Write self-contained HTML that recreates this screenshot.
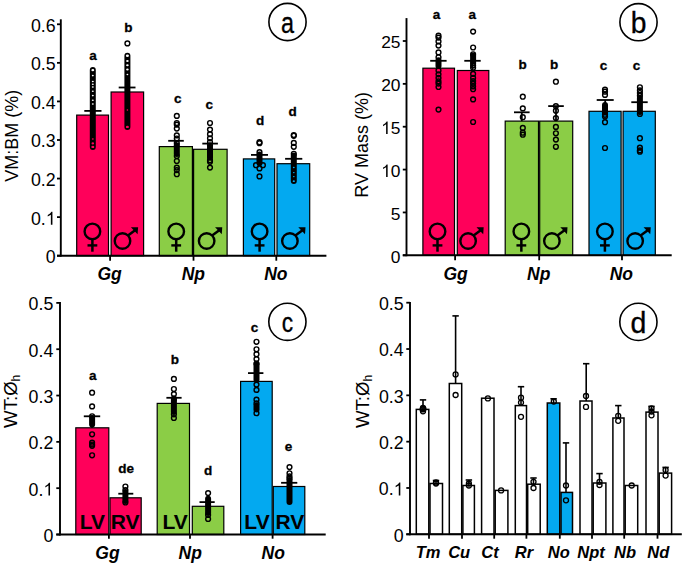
<!DOCTYPE html>
<html><head><meta charset="utf-8"><style>
html,body{margin:0;padding:0;background:#fff;}
body{width:685px;height:565px;overflow:hidden;}
svg{display:block;font-family:"Liberation Sans", sans-serif;}
</style></head><body>
<svg width="685" height="565" viewBox="0 0 685 565">
<rect width="685" height="565" fill="#fff"/>
<rect x="76.70" y="115.10" width="31.80" height="140.60" fill="#FF005A" stroke="#000" stroke-width="1.2"/>
<rect x="111.10" y="92.00" width="32.50" height="163.70" fill="#FF005A" stroke="#000" stroke-width="1.2"/>
<rect x="159.30" y="146.60" width="33.10" height="109.10" fill="#8BCD46" stroke="#000" stroke-width="1.2"/>
<rect x="193.60" y="149.30" width="33.50" height="106.40" fill="#8BCD46" stroke="#000" stroke-width="1.2"/>
<rect x="243.40" y="158.90" width="31.30" height="96.80" fill="#03A9F0" stroke="#000" stroke-width="1.2"/>
<rect x="277.00" y="163.70" width="32.70" height="92.00" fill="#03A9F0" stroke="#000" stroke-width="1.2"/>
<circle cx="92.40" cy="231.40" r="7.8" fill="none" stroke="#000" stroke-width="2.4"/>
<line x1="92.40" y1="239.20" x2="92.40" y2="251.70" stroke="#000" stroke-width="2.5"/>
<line x1="87.50" y1="245.40" x2="97.30" y2="245.40" stroke="#000" stroke-width="2.4"/>
<circle cx="122.50" cy="241.00" r="7.75" fill="none" stroke="#000" stroke-width="2.4"/>
<line x1="127.98" y1="235.52" x2="135.10" y2="230.30" stroke="#000" stroke-width="2.5"/>
<polygon points="138.10,227.30 130.90,227.20 137.60,234.30" fill="#000"/>
<circle cx="176.20" cy="231.40" r="7.8" fill="none" stroke="#000" stroke-width="2.4"/>
<line x1="176.20" y1="239.20" x2="176.20" y2="251.70" stroke="#000" stroke-width="2.5"/>
<line x1="171.30" y1="245.40" x2="181.10" y2="245.40" stroke="#000" stroke-width="2.4"/>
<circle cx="206.65" cy="241.00" r="7.75" fill="none" stroke="#000" stroke-width="2.4"/>
<line x1="212.13" y1="235.52" x2="219.25" y2="230.30" stroke="#000" stroke-width="2.5"/>
<polygon points="222.25,227.30 215.05,227.20 221.75,234.30" fill="#000"/>
<circle cx="259.60" cy="231.40" r="7.8" fill="none" stroke="#000" stroke-width="2.4"/>
<line x1="259.60" y1="239.20" x2="259.60" y2="251.70" stroke="#000" stroke-width="2.5"/>
<line x1="254.70" y1="245.40" x2="264.50" y2="245.40" stroke="#000" stroke-width="2.4"/>
<circle cx="289.90" cy="241.00" r="7.75" fill="none" stroke="#000" stroke-width="2.4"/>
<line x1="295.38" y1="235.52" x2="302.50" y2="230.30" stroke="#000" stroke-width="2.5"/>
<polygon points="305.50,227.30 298.30,227.20 305.00,234.30" fill="#000"/>
<rect x="89.80" y="66.90" width="6.00" height="83.00" rx="3.00" fill="#000"/>
<ellipse cx="92.80" cy="70.20" rx="1.40" ry="1.12" fill="#fff"/>
<ellipse cx="92.80" cy="75.60" rx="1.00" ry="0.80" fill="#fff"/>
<ellipse cx="92.80" cy="81.50" rx="1.00" ry="0.80" fill="#fff"/>
<ellipse cx="92.80" cy="84.30" rx="1.00" ry="0.80" fill="#fff"/>
<ellipse cx="92.80" cy="87.00" rx="1.00" ry="0.80" fill="#fff"/>
<ellipse cx="92.80" cy="91.30" rx="1.00" ry="0.80" fill="#fff"/>
<ellipse cx="92.80" cy="95.60" rx="1.00" ry="0.80" fill="#fff"/>
<ellipse cx="92.80" cy="100.20" rx="1.00" ry="0.80" fill="#fff"/>
<ellipse cx="92.80" cy="104.00" rx="1.00" ry="0.80" fill="#fff"/>
<ellipse cx="92.80" cy="139.00" rx="1.00" ry="0.80" fill="#FF005A"/>
<ellipse cx="92.80" cy="143.40" rx="1.30" ry="1.04" fill="#FF005A"/>
<ellipse cx="92.80" cy="146.90" rx="1.50" ry="1.20" fill="#FF005A"/>
<rect x="124.40" y="52.70" width="6.00" height="77.20" rx="3.00" fill="#000"/>
<circle cx="127.40" cy="43.40" r="2.4" fill="none" stroke="#000" stroke-width="1.4"/>
<ellipse cx="127.40" cy="55.70" rx="1.50" ry="1.20" fill="#fff"/>
<ellipse cx="127.40" cy="61.00" rx="1.30" ry="1.04" fill="#fff"/>
<ellipse cx="127.40" cy="65.20" rx="1.30" ry="1.04" fill="#fff"/>
<ellipse cx="127.40" cy="69.50" rx="1.30" ry="1.04" fill="#fff"/>
<ellipse cx="127.40" cy="74.50" rx="0.90" ry="0.72" fill="#fff"/>
<ellipse cx="127.40" cy="110.00" rx="0.80" ry="0.64" fill="#FF005A"/>
<ellipse cx="127.40" cy="126.90" rx="1.50" ry="1.20" fill="#FF005A"/>
<rect x="173.80" y="142.30" width="6.00" height="14.70" rx="3.00" fill="#000"/>
<circle cx="176.80" cy="115.90" r="2.4" fill="none" stroke="#000" stroke-width="1.4"/>
<circle cx="176.80" cy="123.00" r="2.4" fill="none" stroke="#000" stroke-width="1.4"/>
<circle cx="176.80" cy="124.60" r="2.4" fill="none" stroke="#000" stroke-width="1.4"/>
<circle cx="176.80" cy="128.60" r="2.4" fill="none" stroke="#000" stroke-width="1.4"/>
<circle cx="176.80" cy="135.40" r="2.4" fill="none" stroke="#000" stroke-width="1.4"/>
<circle cx="176.80" cy="138.50" r="2.4" fill="none" stroke="#000" stroke-width="1.4"/>
<circle cx="176.80" cy="143.20" r="2.4" fill="none" stroke="#000" stroke-width="1.4"/>
<circle cx="176.80" cy="156.10" r="2.4" fill="none" stroke="#000" stroke-width="1.4"/>
<circle cx="176.80" cy="161.00" r="2.4" fill="none" stroke="#000" stroke-width="1.4"/>
<circle cx="176.80" cy="167.60" r="2.4" fill="none" stroke="#000" stroke-width="1.4"/>
<circle cx="176.80" cy="170.10" r="2.4" fill="none" stroke="#000" stroke-width="1.4"/>
<circle cx="176.80" cy="174.20" r="2.4" fill="none" stroke="#000" stroke-width="1.4"/>
<rect x="207.00" y="144.20" width="6.00" height="16.50" rx="3.00" fill="#000"/>
<circle cx="210.00" cy="123.00" r="2.4" fill="none" stroke="#000" stroke-width="1.4"/>
<circle cx="210.00" cy="129.60" r="2.4" fill="none" stroke="#000" stroke-width="1.4"/>
<circle cx="210.00" cy="134.20" r="2.4" fill="none" stroke="#000" stroke-width="1.4"/>
<circle cx="210.00" cy="138.30" r="2.4" fill="none" stroke="#000" stroke-width="1.4"/>
<circle cx="210.00" cy="142.00" r="2.4" fill="none" stroke="#000" stroke-width="1.4"/>
<circle cx="210.00" cy="145.30" r="2.4" fill="none" stroke="#000" stroke-width="1.4"/>
<circle cx="210.00" cy="160.20" r="2.4" fill="none" stroke="#000" stroke-width="1.4"/>
<circle cx="210.00" cy="161.80" r="2.4" fill="none" stroke="#000" stroke-width="1.4"/>
<circle cx="210.00" cy="167.60" r="2.4" fill="none" stroke="#000" stroke-width="1.4"/>
<rect x="256.50" y="151.50" width="6.00" height="14.50" rx="3.00" fill="#000"/>
<circle cx="259.50" cy="142.20" r="2.4" fill="none" stroke="#000" stroke-width="1.4"/>
<circle cx="259.50" cy="143.20" r="2.4" fill="none" stroke="#000" stroke-width="1.4"/>
<circle cx="259.50" cy="152.20" r="2.4" fill="none" stroke="#000" stroke-width="1.4"/>
<circle cx="256.00" cy="165.20" r="2.4" fill="none" stroke="#000" stroke-width="1.4"/>
<circle cx="262.90" cy="165.20" r="2.4" fill="none" stroke="#000" stroke-width="1.4"/>
<circle cx="259.50" cy="168.40" r="2.4" fill="none" stroke="#000" stroke-width="1.4"/>
<circle cx="259.50" cy="176.40" r="2.4" fill="none" stroke="#000" stroke-width="1.4"/>
<rect x="290.80" y="152.50" width="6.00" height="31.50" rx="3.00" fill="#000"/>
<circle cx="293.80" cy="135.10" r="2.4" fill="none" stroke="#000" stroke-width="1.4"/>
<circle cx="293.80" cy="135.80" r="2.4" fill="none" stroke="#000" stroke-width="1.4"/>
<circle cx="293.80" cy="142.90" r="2.4" fill="none" stroke="#000" stroke-width="1.4"/>
<circle cx="293.80" cy="146.80" r="2.4" fill="none" stroke="#000" stroke-width="1.4"/>
<circle cx="293.80" cy="153.80" r="2.4" fill="none" stroke="#000" stroke-width="1.4"/>
<ellipse cx="293.80" cy="167.50" rx="0.90" ry="0.72" fill="#03A9F0"/>
<ellipse cx="293.80" cy="172.60" rx="0.90" ry="0.72" fill="#03A9F0"/>
<ellipse cx="293.80" cy="176.60" rx="0.90" ry="0.72" fill="#03A9F0"/>
<ellipse cx="293.80" cy="181.20" rx="1.10" ry="0.88" fill="#03A9F0"/>
<line x1="92.90" y1="110.90" x2="92.90" y2="115.00" stroke="#000" stroke-width="1.8"/>
<line x1="84.30" y1="110.90" x2="101.50" y2="110.90" stroke="#000" stroke-width="1.8"/>
<line x1="127.10" y1="87.50" x2="127.10" y2="92.00" stroke="#000" stroke-width="1.8"/>
<line x1="118.70" y1="87.50" x2="135.50" y2="87.50" stroke="#000" stroke-width="1.8"/>
<line x1="176.00" y1="140.80" x2="176.00" y2="146.30" stroke="#000" stroke-width="1.8"/>
<line x1="168.20" y1="140.80" x2="183.80" y2="140.80" stroke="#000" stroke-width="1.8"/>
<line x1="210.10" y1="143.60" x2="210.10" y2="149.00" stroke="#000" stroke-width="1.8"/>
<line x1="202.30" y1="143.60" x2="217.90" y2="143.60" stroke="#000" stroke-width="1.8"/>
<line x1="259.50" y1="154.90" x2="259.50" y2="158.70" stroke="#000" stroke-width="1.8"/>
<line x1="251.00" y1="154.90" x2="268.00" y2="154.90" stroke="#000" stroke-width="1.8"/>
<line x1="293.70" y1="158.80" x2="293.70" y2="163.50" stroke="#000" stroke-width="1.8"/>
<line x1="285.10" y1="158.80" x2="302.30" y2="158.80" stroke="#000" stroke-width="1.8"/>
<line x1="60.80" y1="19.30" x2="60.80" y2="256.60" stroke="#000" stroke-width="1.9"/>
<line x1="57.00" y1="255.70" x2="60.80" y2="255.70" stroke="#000" stroke-width="1.8"/>
<line x1="57.00" y1="217.13" x2="60.80" y2="217.13" stroke="#000" stroke-width="1.8"/>
<line x1="57.00" y1="178.56" x2="60.80" y2="178.56" stroke="#000" stroke-width="1.8"/>
<line x1="57.00" y1="139.99" x2="60.80" y2="139.99" stroke="#000" stroke-width="1.8"/>
<line x1="57.00" y1="101.42" x2="60.80" y2="101.42" stroke="#000" stroke-width="1.8"/>
<line x1="57.00" y1="62.85" x2="60.80" y2="62.85" stroke="#000" stroke-width="1.8"/>
<line x1="57.00" y1="24.28" x2="60.80" y2="24.28" stroke="#000" stroke-width="1.8"/>
<line x1="57.00" y1="255.70" x2="326.40" y2="255.70" stroke="#000" stroke-width="1.9"/>
<line x1="110.10" y1="255.70" x2="110.10" y2="260.70" stroke="#000" stroke-width="1.8"/>
<line x1="193.50" y1="255.70" x2="193.50" y2="260.70" stroke="#000" stroke-width="1.8"/>
<line x1="276.30" y1="255.70" x2="276.30" y2="260.70" stroke="#000" stroke-width="1.8"/>
<text x="55.70" y="263.20" font-size="17.8" text-anchor="end" font-weight="normal" font-style="normal" >0</text>
<text x="30.96" y="224.63" font-size="17.8" text-anchor="start" font-weight="normal" font-style="normal" >0</text>
<text x="40.86" y="224.63" font-size="17.8" text-anchor="start" font-weight="normal" font-style="normal" >.</text>
<path d="M583 0V1147L223 930V1104Q374 1175 487 1276T647 1472H763V0Z" transform="translate(45.80 224.63) scale(0.00869 -0.00869)" fill="#000"/>
<text x="55.70" y="186.06" font-size="17.8" text-anchor="end" font-weight="normal" font-style="normal" >0.2</text>
<text x="55.70" y="147.49" font-size="17.8" text-anchor="end" font-weight="normal" font-style="normal" >0.3</text>
<text x="55.70" y="108.92" font-size="17.8" text-anchor="end" font-weight="normal" font-style="normal" >0.4</text>
<text x="55.70" y="70.35" font-size="17.8" text-anchor="end" font-weight="normal" font-style="normal" >0.5</text>
<text x="55.70" y="31.78" font-size="17.8" text-anchor="end" font-weight="normal" font-style="normal" >0.6</text>
<text x="109.60" y="280.00" font-size="17.5" text-anchor="middle" font-weight="bold" font-style="italic" >Gg</text>
<text x="193.30" y="280.00" font-size="17.5" text-anchor="middle" font-weight="bold" font-style="italic" >Np</text>
<text x="275.90" y="280.00" font-size="17.5" text-anchor="middle" font-weight="bold" font-style="italic" >No</text>
<text x="93.05" y="59.80" font-size="13.5" text-anchor="middle" font-weight="bold" font-style="normal" stroke="#000" stroke-width="0.3">a</text>
<text x="128.45" y="31.50" font-size="13.5" text-anchor="middle" font-weight="bold" font-style="normal" stroke="#000" stroke-width="0.3">b</text>
<text x="177.70" y="103.00" font-size="13.5" text-anchor="middle" font-weight="bold" font-style="normal" stroke="#000" stroke-width="0.3">c</text>
<text x="209.35" y="108.50" font-size="13.5" text-anchor="middle" font-weight="bold" font-style="normal" stroke="#000" stroke-width="0.3">c</text>
<text x="260.05" y="124.70" font-size="13.5" text-anchor="middle" font-weight="bold" font-style="normal" stroke="#000" stroke-width="0.3">d</text>
<text x="292.55" y="116.30" font-size="13.5" text-anchor="middle" font-weight="bold" font-style="normal" stroke="#000" stroke-width="0.3">d</text>
<text x="17.60" y="135.80" font-size="18.0" text-anchor="middle" font-weight="normal" font-style="normal" transform="rotate(-90 17.6 135.8)">VM:BM (%)</text>
<circle cx="287.5" cy="22.0" r="18.6" fill="none" stroke="#000" stroke-width="1.6"/>
<text x="0" y="0" font-size="30" text-anchor="middle" stroke="#000" stroke-width="0.35" transform="translate(287.5 32.6) scale(0.78 1.0)">a</text>
<rect x="422.90" y="68.20" width="31.60" height="187.10" fill="#FF005A" stroke="#000" stroke-width="1.2"/>
<rect x="457.30" y="70.50" width="31.50" height="184.80" fill="#FF005A" stroke="#000" stroke-width="1.2"/>
<rect x="505.20" y="121.10" width="33.30" height="134.20" fill="#8BCD46" stroke="#000" stroke-width="1.2"/>
<rect x="539.70" y="121.10" width="33.00" height="134.20" fill="#8BCD46" stroke="#000" stroke-width="1.2"/>
<rect x="589.00" y="111.30" width="32.10" height="144.00" fill="#03A9F0" stroke="#000" stroke-width="1.2"/>
<rect x="623.10" y="111.30" width="32.20" height="144.00" fill="#03A9F0" stroke="#000" stroke-width="1.2"/>
<circle cx="437.50" cy="231.40" r="7.8" fill="none" stroke="#000" stroke-width="2.4"/>
<line x1="437.50" y1="239.20" x2="437.50" y2="251.70" stroke="#000" stroke-width="2.5"/>
<line x1="432.60" y1="245.40" x2="442.40" y2="245.40" stroke="#000" stroke-width="2.4"/>
<circle cx="468.10" cy="241.00" r="7.75" fill="none" stroke="#000" stroke-width="2.4"/>
<line x1="473.58" y1="235.52" x2="480.70" y2="230.30" stroke="#000" stroke-width="2.5"/>
<polygon points="483.70,227.30 476.50,227.20 483.20,234.30" fill="#000"/>
<circle cx="521.35" cy="231.40" r="7.8" fill="none" stroke="#000" stroke-width="2.4"/>
<line x1="521.35" y1="239.20" x2="521.35" y2="251.70" stroke="#000" stroke-width="2.5"/>
<line x1="516.45" y1="245.40" x2="526.25" y2="245.40" stroke="#000" stroke-width="2.4"/>
<circle cx="551.90" cy="241.00" r="7.75" fill="none" stroke="#000" stroke-width="2.4"/>
<line x1="557.38" y1="235.52" x2="564.50" y2="230.30" stroke="#000" stroke-width="2.5"/>
<polygon points="567.50,227.30 560.30,227.20 567.00,234.30" fill="#000"/>
<circle cx="604.90" cy="231.40" r="7.8" fill="none" stroke="#000" stroke-width="2.4"/>
<line x1="604.90" y1="239.20" x2="604.90" y2="251.70" stroke="#000" stroke-width="2.5"/>
<line x1="600.00" y1="245.40" x2="609.80" y2="245.40" stroke="#000" stroke-width="2.4"/>
<circle cx="635.15" cy="241.00" r="7.75" fill="none" stroke="#000" stroke-width="2.4"/>
<line x1="640.63" y1="235.52" x2="647.75" y2="230.30" stroke="#000" stroke-width="2.5"/>
<polygon points="650.75,227.30 643.55,227.20 650.25,234.30" fill="#000"/>
<rect x="435.50" y="57.30" width="6.00" height="11.70" rx="3.00" fill="#000"/>
<circle cx="438.50" cy="35.70" r="2.4" fill="none" stroke="#000" stroke-width="1.4"/>
<circle cx="438.50" cy="37.60" r="2.4" fill="none" stroke="#000" stroke-width="1.4"/>
<circle cx="438.50" cy="41.40" r="2.4" fill="none" stroke="#000" stroke-width="1.4"/>
<circle cx="438.50" cy="45.60" r="2.4" fill="none" stroke="#000" stroke-width="1.4"/>
<circle cx="438.50" cy="52.40" r="2.4" fill="none" stroke="#000" stroke-width="1.4"/>
<circle cx="438.50" cy="57.30" r="2.4" fill="none" stroke="#000" stroke-width="1.4"/>
<circle cx="438.50" cy="70.50" r="2.4" fill="none" stroke="#000" stroke-width="1.4"/>
<circle cx="438.50" cy="74.30" r="2.4" fill="none" stroke="#000" stroke-width="1.4"/>
<circle cx="438.50" cy="77.90" r="2.4" fill="none" stroke="#000" stroke-width="1.4"/>
<circle cx="438.50" cy="81.30" r="2.4" fill="none" stroke="#000" stroke-width="1.4"/>
<circle cx="438.50" cy="83.60" r="2.4" fill="none" stroke="#000" stroke-width="1.4"/>
<circle cx="438.50" cy="87.00" r="2.4" fill="none" stroke="#000" stroke-width="1.4"/>
<circle cx="438.50" cy="109.60" r="2.4" fill="none" stroke="#000" stroke-width="1.4"/>
<rect x="470.10" y="52.50" width="6.00" height="11.50" rx="3.00" fill="#000"/>
<circle cx="473.10" cy="31.60" r="2.4" fill="none" stroke="#000" stroke-width="1.4"/>
<circle cx="473.10" cy="47.50" r="2.4" fill="none" stroke="#000" stroke-width="1.4"/>
<circle cx="473.10" cy="54.30" r="2.4" fill="none" stroke="#000" stroke-width="1.4"/>
<circle cx="473.10" cy="63.10" r="2.4" fill="none" stroke="#000" stroke-width="1.4"/>
<circle cx="473.10" cy="65.40" r="2.4" fill="none" stroke="#000" stroke-width="1.4"/>
<circle cx="473.10" cy="67.70" r="2.4" fill="none" stroke="#000" stroke-width="1.4"/>
<circle cx="473.10" cy="73.90" r="2.4" fill="none" stroke="#000" stroke-width="1.4"/>
<circle cx="473.10" cy="77.90" r="2.4" fill="none" stroke="#000" stroke-width="1.4"/>
<circle cx="473.10" cy="81.10" r="2.4" fill="none" stroke="#000" stroke-width="1.4"/>
<circle cx="473.10" cy="83.60" r="2.4" fill="none" stroke="#000" stroke-width="1.4"/>
<circle cx="473.10" cy="86.40" r="2.4" fill="none" stroke="#000" stroke-width="1.4"/>
<circle cx="473.10" cy="89.20" r="2.4" fill="none" stroke="#000" stroke-width="1.4"/>
<circle cx="473.10" cy="99.40" r="2.4" fill="none" stroke="#000" stroke-width="1.4"/>
<circle cx="473.10" cy="122.00" r="2.4" fill="none" stroke="#000" stroke-width="1.4"/>
<circle cx="522.80" cy="96.70" r="2.4" fill="none" stroke="#000" stroke-width="1.4"/>
<circle cx="522.80" cy="108.40" r="2.4" fill="none" stroke="#000" stroke-width="1.4"/>
<circle cx="522.80" cy="117.20" r="2.4" fill="none" stroke="#000" stroke-width="1.4"/>
<circle cx="522.80" cy="127.90" r="2.4" fill="none" stroke="#000" stroke-width="1.4"/>
<circle cx="522.80" cy="132.70" r="2.4" fill="none" stroke="#000" stroke-width="1.4"/>
<circle cx="522.80" cy="134.70" r="2.4" fill="none" stroke="#000" stroke-width="1.4"/>
<circle cx="555.90" cy="81.70" r="2.4" fill="none" stroke="#000" stroke-width="1.4"/>
<circle cx="555.90" cy="106.10" r="2.4" fill="none" stroke="#000" stroke-width="1.4"/>
<circle cx="555.90" cy="110.70" r="2.4" fill="none" stroke="#000" stroke-width="1.4"/>
<circle cx="555.90" cy="118.10" r="2.4" fill="none" stroke="#000" stroke-width="1.4"/>
<circle cx="555.90" cy="126.90" r="2.4" fill="none" stroke="#000" stroke-width="1.4"/>
<circle cx="555.90" cy="133.30" r="2.4" fill="none" stroke="#000" stroke-width="1.4"/>
<circle cx="555.90" cy="139.60" r="2.4" fill="none" stroke="#000" stroke-width="1.4"/>
<circle cx="555.90" cy="146.80" r="2.4" fill="none" stroke="#000" stroke-width="1.4"/>
<rect x="602.00" y="102.00" width="6.00" height="12.20" rx="3.00" fill="#000"/>
<circle cx="605.00" cy="89.60" r="2.4" fill="none" stroke="#000" stroke-width="1.4"/>
<circle cx="605.00" cy="91.70" r="2.4" fill="none" stroke="#000" stroke-width="1.4"/>
<circle cx="605.00" cy="94.90" r="2.4" fill="none" stroke="#000" stroke-width="1.4"/>
<circle cx="605.00" cy="112.50" r="2.4" fill="none" stroke="#000" stroke-width="1.4"/>
<circle cx="605.00" cy="114.80" r="2.4" fill="none" stroke="#000" stroke-width="1.4"/>
<circle cx="605.00" cy="116.50" r="2.4" fill="none" stroke="#000" stroke-width="1.4"/>
<circle cx="605.00" cy="122.20" r="2.4" fill="none" stroke="#000" stroke-width="1.4"/>
<circle cx="605.00" cy="148.00" r="2.4" fill="none" stroke="#000" stroke-width="1.4"/>
<rect x="636.90" y="94.90" width="6.00" height="20.00" rx="3.00" fill="#000"/>
<circle cx="639.90" cy="87.30" r="2.4" fill="none" stroke="#000" stroke-width="1.4"/>
<circle cx="639.90" cy="90.40" r="2.4" fill="none" stroke="#000" stroke-width="1.4"/>
<circle cx="639.90" cy="93.00" r="2.4" fill="none" stroke="#000" stroke-width="1.4"/>
<circle cx="639.90" cy="95.70" r="2.4" fill="none" stroke="#000" stroke-width="1.4"/>
<circle cx="639.90" cy="113.90" r="2.4" fill="none" stroke="#000" stroke-width="1.4"/>
<circle cx="639.90" cy="138.20" r="2.4" fill="none" stroke="#000" stroke-width="1.4"/>
<circle cx="639.90" cy="147.70" r="2.4" fill="none" stroke="#000" stroke-width="1.4"/>
<circle cx="639.90" cy="150.40" r="2.4" fill="none" stroke="#000" stroke-width="1.4"/>
<circle cx="639.90" cy="151.70" r="2.4" fill="none" stroke="#000" stroke-width="1.4"/>
<line x1="438.40" y1="60.80" x2="438.40" y2="68.20" stroke="#000" stroke-width="1.8"/>
<line x1="430.20" y1="60.80" x2="446.60" y2="60.80" stroke="#000" stroke-width="1.8"/>
<line x1="472.50" y1="60.80" x2="472.50" y2="70.50" stroke="#000" stroke-width="1.8"/>
<line x1="464.30" y1="60.80" x2="480.70" y2="60.80" stroke="#000" stroke-width="1.8"/>
<line x1="521.80" y1="112.30" x2="521.80" y2="121.10" stroke="#000" stroke-width="1.8"/>
<line x1="514.00" y1="112.30" x2="529.60" y2="112.30" stroke="#000" stroke-width="1.8"/>
<line x1="556.00" y1="106.10" x2="556.00" y2="121.10" stroke="#000" stroke-width="1.8"/>
<line x1="548.20" y1="106.10" x2="563.80" y2="106.10" stroke="#000" stroke-width="1.8"/>
<line x1="605.20" y1="100.00" x2="605.20" y2="111.30" stroke="#000" stroke-width="1.8"/>
<line x1="596.70" y1="100.00" x2="613.70" y2="100.00" stroke="#000" stroke-width="1.8"/>
<line x1="639.50" y1="102.20" x2="639.50" y2="111.30" stroke="#000" stroke-width="1.8"/>
<line x1="631.30" y1="102.20" x2="647.70" y2="102.20" stroke="#000" stroke-width="1.8"/>
<line x1="406.50" y1="18.10" x2="406.50" y2="256.20" stroke="#000" stroke-width="1.9"/>
<line x1="402.80" y1="255.30" x2="406.50" y2="255.30" stroke="#000" stroke-width="1.8"/>
<line x1="402.80" y1="212.44" x2="406.50" y2="212.44" stroke="#000" stroke-width="1.8"/>
<line x1="402.80" y1="169.58" x2="406.50" y2="169.58" stroke="#000" stroke-width="1.8"/>
<line x1="402.80" y1="126.72" x2="406.50" y2="126.72" stroke="#000" stroke-width="1.8"/>
<line x1="402.80" y1="83.86" x2="406.50" y2="83.86" stroke="#000" stroke-width="1.8"/>
<line x1="402.80" y1="41.00" x2="406.50" y2="41.00" stroke="#000" stroke-width="1.8"/>
<line x1="402.80" y1="255.30" x2="671.70" y2="255.30" stroke="#000" stroke-width="1.9"/>
<line x1="455.10" y1="255.30" x2="455.10" y2="260.30" stroke="#000" stroke-width="1.8"/>
<line x1="539.20" y1="255.30" x2="539.20" y2="260.30" stroke="#000" stroke-width="1.8"/>
<line x1="622.00" y1="255.30" x2="622.00" y2="260.30" stroke="#000" stroke-width="1.8"/>
<text x="400.50" y="262.70" font-size="17.4" text-anchor="end" font-weight="normal" font-style="normal" >0</text>
<text x="400.50" y="219.84" font-size="17.4" text-anchor="end" font-weight="normal" font-style="normal" >5</text>
<path d="M583 0V1147L223 930V1104Q374 1175 487 1276T647 1472H763V0Z" transform="translate(381.15 176.98) scale(0.00850 -0.00850)" fill="#000"/>
<text x="390.82" y="176.98" font-size="17.4" text-anchor="start" font-weight="normal" font-style="normal" >0</text>
<path d="M583 0V1147L223 930V1104Q374 1175 487 1276T647 1472H763V0Z" transform="translate(381.15 134.12) scale(0.00850 -0.00850)" fill="#000"/>
<text x="390.82" y="134.12" font-size="17.4" text-anchor="start" font-weight="normal" font-style="normal" >5</text>
<text x="400.50" y="91.26" font-size="17.4" text-anchor="end" font-weight="normal" font-style="normal" >20</text>
<text x="400.50" y="48.40" font-size="17.4" text-anchor="end" font-weight="normal" font-style="normal" >25</text>
<text x="455.60" y="280.00" font-size="17.5" text-anchor="middle" font-weight="bold" font-style="italic" >Gg</text>
<text x="538.70" y="280.00" font-size="17.5" text-anchor="middle" font-weight="bold" font-style="italic" >Np</text>
<text x="621.40" y="280.00" font-size="17.5" text-anchor="middle" font-weight="bold" font-style="italic" >No</text>
<text x="436.60" y="18.70" font-size="13.5" text-anchor="middle" font-weight="bold" font-style="normal" stroke="#000" stroke-width="0.3">a</text>
<text x="472.20" y="18.70" font-size="13.5" text-anchor="middle" font-weight="bold" font-style="normal" stroke="#000" stroke-width="0.3">a</text>
<text x="522.50" y="68.50" font-size="13.5" text-anchor="middle" font-weight="bold" font-style="normal" stroke="#000" stroke-width="0.3">b</text>
<text x="554.20" y="68.50" font-size="13.5" text-anchor="middle" font-weight="bold" font-style="normal" stroke="#000" stroke-width="0.3">b</text>
<text x="603.60" y="70.30" font-size="13.5" text-anchor="middle" font-weight="bold" font-style="normal" stroke="#000" stroke-width="0.3">c</text>
<text x="636.40" y="70.30" font-size="13.5" text-anchor="middle" font-weight="bold" font-style="normal" stroke="#000" stroke-width="0.3">c</text>
<text x="368.40" y="144.80" font-size="18.0" text-anchor="middle" font-weight="normal" font-style="normal" transform="rotate(-90 368.4 144.8)">RV Mass (%)</text>
<circle cx="638.5" cy="22.2" r="18.6" fill="none" stroke="#000" stroke-width="1.6"/>
<text x="0" y="0" font-size="30" text-anchor="middle" stroke="#000" stroke-width="0.35" transform="translate(638.5 32.8) scale(0.94 1.0)">b</text>
<rect x="75.80" y="427.80" width="33.00" height="106.70" fill="#FF005A" stroke="#000" stroke-width="1.2"/>
<rect x="110.00" y="497.80" width="31.20" height="36.70" fill="#FF005A" stroke="#000" stroke-width="1.2"/>
<rect x="157.20" y="403.40" width="32.30" height="131.10" fill="#8BCD46" stroke="#000" stroke-width="1.2"/>
<rect x="192.30" y="506.30" width="31.50" height="28.20" fill="#8BCD46" stroke="#000" stroke-width="1.2"/>
<rect x="240.60" y="381.40" width="31.60" height="153.10" fill="#03A9F0" stroke="#000" stroke-width="1.2"/>
<rect x="273.30" y="486.50" width="31.50" height="48.00" fill="#03A9F0" stroke="#000" stroke-width="1.2"/>
<rect x="89.10" y="415.00" width="6.00" height="12.60" rx="3.00" fill="#000"/>
<circle cx="92.10" cy="392.70" r="2.4" fill="none" stroke="#000" stroke-width="1.4"/>
<circle cx="92.10" cy="406.40" r="2.4" fill="none" stroke="#000" stroke-width="1.4"/>
<circle cx="92.10" cy="416.30" r="2.4" fill="none" stroke="#000" stroke-width="1.4"/>
<circle cx="92.10" cy="434.30" r="2.4" fill="none" stroke="#000" stroke-width="1.4"/>
<circle cx="92.10" cy="442.70" r="2.4" fill="none" stroke="#000" stroke-width="1.4"/>
<circle cx="92.10" cy="444.50" r="2.4" fill="none" stroke="#000" stroke-width="1.4"/>
<circle cx="92.10" cy="445.80" r="2.4" fill="none" stroke="#000" stroke-width="1.4"/>
<circle cx="92.10" cy="455.30" r="2.4" fill="none" stroke="#000" stroke-width="1.4"/>
<rect x="122.40" y="489.00" width="6.00" height="15.00" rx="3.00" fill="#000"/>
<circle cx="125.40" cy="486.50" r="2.4" fill="none" stroke="#000" stroke-width="1.4"/>
<circle cx="125.40" cy="490.00" r="2.4" fill="none" stroke="#000" stroke-width="1.4"/>
<circle cx="125.40" cy="502.50" r="2.4" fill="none" stroke="#000" stroke-width="1.4"/>
<rect x="170.90" y="397.50" width="6.00" height="17.50" rx="3.00" fill="#000"/>
<circle cx="173.90" cy="378.90" r="2.4" fill="none" stroke="#000" stroke-width="1.4"/>
<circle cx="173.90" cy="389.00" r="2.4" fill="none" stroke="#000" stroke-width="1.4"/>
<circle cx="173.90" cy="394.10" r="2.4" fill="none" stroke="#000" stroke-width="1.4"/>
<circle cx="173.90" cy="398.70" r="2.4" fill="none" stroke="#000" stroke-width="1.4"/>
<circle cx="173.90" cy="414.30" r="2.4" fill="none" stroke="#000" stroke-width="1.4"/>
<circle cx="173.90" cy="418.00" r="2.4" fill="none" stroke="#000" stroke-width="1.4"/>
<rect x="205.10" y="495.80" width="6.00" height="20.10" rx="3.00" fill="#000"/>
<circle cx="208.10" cy="493.10" r="2.4" fill="none" stroke="#000" stroke-width="1.4"/>
<circle cx="208.10" cy="514.90" r="2.4" fill="none" stroke="#000" stroke-width="1.4"/>
<circle cx="208.10" cy="519.00" r="2.4" fill="none" stroke="#000" stroke-width="1.4"/>
<rect x="253.50" y="361.30" width="6.00" height="21.10" rx="3.00" fill="#000"/>
<rect x="253.50" y="402.70" width="6.00" height="9.70" rx="3.00" fill="#000"/>
<circle cx="256.50" cy="341.80" r="2.4" fill="none" stroke="#000" stroke-width="1.4"/>
<circle cx="256.50" cy="349.30" r="2.4" fill="none" stroke="#000" stroke-width="1.4"/>
<circle cx="256.50" cy="354.20" r="2.4" fill="none" stroke="#000" stroke-width="1.4"/>
<circle cx="256.50" cy="359.10" r="2.4" fill="none" stroke="#000" stroke-width="1.4"/>
<circle cx="256.50" cy="363.60" r="2.4" fill="none" stroke="#000" stroke-width="1.4"/>
<circle cx="256.50" cy="384.60" r="2.4" fill="none" stroke="#000" stroke-width="1.4"/>
<circle cx="256.50" cy="389.90" r="2.4" fill="none" stroke="#000" stroke-width="1.4"/>
<circle cx="256.50" cy="399.70" r="2.4" fill="none" stroke="#000" stroke-width="1.4"/>
<circle cx="256.50" cy="403.40" r="2.4" fill="none" stroke="#000" stroke-width="1.4"/>
<circle cx="256.50" cy="413.20" r="2.4" fill="none" stroke="#000" stroke-width="1.4"/>
<rect x="286.50" y="477.00" width="6.00" height="28.00" rx="3.00" fill="#000"/>
<circle cx="289.50" cy="467.10" r="2.4" fill="none" stroke="#000" stroke-width="1.4"/>
<circle cx="289.50" cy="473.30" r="2.4" fill="none" stroke="#000" stroke-width="1.4"/>
<circle cx="289.50" cy="476.40" r="2.4" fill="none" stroke="#000" stroke-width="1.4"/>
<circle cx="289.50" cy="478.60" r="2.4" fill="none" stroke="#000" stroke-width="1.4"/>
<line x1="92.00" y1="416.30" x2="92.00" y2="427.80" stroke="#000" stroke-width="1.8"/>
<line x1="83.80" y1="416.30" x2="100.20" y2="416.30" stroke="#000" stroke-width="1.8"/>
<line x1="125.80" y1="493.70" x2="125.80" y2="497.80" stroke="#000" stroke-width="1.8"/>
<line x1="118.30" y1="493.70" x2="133.30" y2="493.70" stroke="#000" stroke-width="1.8"/>
<line x1="174.00" y1="397.80" x2="174.00" y2="403.40" stroke="#000" stroke-width="1.8"/>
<line x1="166.40" y1="397.80" x2="181.60" y2="397.80" stroke="#000" stroke-width="1.8"/>
<line x1="207.10" y1="502.10" x2="207.10" y2="506.30" stroke="#000" stroke-width="1.8"/>
<line x1="199.50" y1="502.10" x2="214.70" y2="502.10" stroke="#000" stroke-width="1.8"/>
<line x1="255.70" y1="373.10" x2="255.70" y2="381.40" stroke="#000" stroke-width="1.8"/>
<line x1="248.00" y1="373.10" x2="263.40" y2="373.10" stroke="#000" stroke-width="1.8"/>
<line x1="289.20" y1="482.80" x2="289.20" y2="486.50" stroke="#000" stroke-width="1.8"/>
<line x1="281.10" y1="482.80" x2="297.30" y2="482.80" stroke="#000" stroke-width="1.8"/>
<line x1="60.00" y1="302.00" x2="60.00" y2="535.40" stroke="#000" stroke-width="1.9"/>
<line x1="56.30" y1="534.50" x2="60.00" y2="534.50" stroke="#000" stroke-width="1.8"/>
<line x1="56.30" y1="488.18" x2="60.00" y2="488.18" stroke="#000" stroke-width="1.8"/>
<line x1="56.30" y1="441.86" x2="60.00" y2="441.86" stroke="#000" stroke-width="1.8"/>
<line x1="56.30" y1="395.54" x2="60.00" y2="395.54" stroke="#000" stroke-width="1.8"/>
<line x1="56.30" y1="349.22" x2="60.00" y2="349.22" stroke="#000" stroke-width="1.8"/>
<line x1="56.30" y1="302.90" x2="60.00" y2="302.90" stroke="#000" stroke-width="1.8"/>
<line x1="56.30" y1="534.50" x2="325.70" y2="534.50" stroke="#000" stroke-width="1.9"/>
<line x1="108.90" y1="534.50" x2="108.90" y2="538.70" stroke="#000" stroke-width="1.8"/>
<line x1="190.00" y1="534.50" x2="190.00" y2="538.70" stroke="#000" stroke-width="1.8"/>
<line x1="272.60" y1="534.50" x2="272.60" y2="538.70" stroke="#000" stroke-width="1.8"/>
<text x="53.30" y="541.90" font-size="17.8" text-anchor="end" font-weight="normal" font-style="normal" >0</text>
<text x="28.56" y="495.58" font-size="17.8" text-anchor="start" font-weight="normal" font-style="normal" >0</text>
<text x="38.46" y="495.58" font-size="17.8" text-anchor="start" font-weight="normal" font-style="normal" >.</text>
<path d="M583 0V1147L223 930V1104Q374 1175 487 1276T647 1472H763V0Z" transform="translate(43.40 495.58) scale(0.00869 -0.00869)" fill="#000"/>
<text x="53.30" y="449.26" font-size="17.8" text-anchor="end" font-weight="normal" font-style="normal" >0.2</text>
<text x="53.30" y="402.94" font-size="17.8" text-anchor="end" font-weight="normal" font-style="normal" >0.3</text>
<text x="53.30" y="356.62" font-size="17.8" text-anchor="end" font-weight="normal" font-style="normal" >0.4</text>
<text x="53.30" y="310.30" font-size="17.8" text-anchor="end" font-weight="normal" font-style="normal" >0.5</text>
<text x="107.50" y="558.60" font-size="17.5" text-anchor="middle" font-weight="bold" font-style="italic" >Gg</text>
<text x="190.20" y="558.60" font-size="17.5" text-anchor="middle" font-weight="bold" font-style="italic" >Np</text>
<text x="273.20" y="558.60" font-size="17.5" text-anchor="middle" font-weight="bold" font-style="italic" >No</text>
<text x="92.85" y="380.30" font-size="13.5" text-anchor="middle" font-weight="bold" font-style="normal" stroke="#000" stroke-width="0.3">a</text>
<text x="126.05" y="472.90" font-size="13.5" text-anchor="middle" font-weight="bold" font-style="normal" stroke="#000" stroke-width="0.3">de</text>
<text x="174.75" y="364.30" font-size="13.5" text-anchor="middle" font-weight="bold" font-style="normal" stroke="#000" stroke-width="0.3">b</text>
<text x="208.20" y="474.70" font-size="13.5" text-anchor="middle" font-weight="bold" font-style="normal" stroke="#000" stroke-width="0.3">d</text>
<text x="254.60" y="331.50" font-size="13.5" text-anchor="middle" font-weight="bold" font-style="normal" stroke="#000" stroke-width="0.3">c</text>
<text x="288.50" y="451.40" font-size="13.5" text-anchor="middle" font-weight="bold" font-style="normal" stroke="#000" stroke-width="0.3">e</text>
<text x="92.30" y="529.40" font-size="21" text-anchor="middle" font-weight="bold" font-style="normal" >LV</text>
<text x="125.10" y="529.40" font-size="21" text-anchor="middle" font-weight="bold" font-style="normal" >RV</text>
<text x="175.10" y="529.40" font-size="21" text-anchor="middle" font-weight="bold" font-style="normal" >LV</text>
<text x="257.00" y="529.40" font-size="21" text-anchor="middle" font-weight="bold" font-style="normal" >LV</text>
<text x="289.90" y="529.40" font-size="21" text-anchor="middle" font-weight="bold" font-style="normal" >RV</text>
<text x="17.0" y="401.3" font-size="18.6" text-anchor="middle" transform="rotate(-90 17.0 401.3)">WT:Ø<tspan font-size="12" dy="3.5">h</tspan></text>
<circle cx="287.4" cy="321.8" r="18.6" fill="none" stroke="#000" stroke-width="1.6"/>
<text x="0" y="0" font-size="30" text-anchor="middle" stroke="#000" stroke-width="0.35" transform="translate(287.4 332.40000000000003) scale(0.76 0.93)">c</text>
<rect x="416.30" y="409.40" width="12.50" height="124.90" fill="#fff" stroke="#000" stroke-width="1.5"/>
<rect x="430.00" y="483.50" width="12.50" height="50.80" fill="#fff" stroke="#000" stroke-width="1.5"/>
<rect x="449.30" y="383.50" width="12.40" height="150.80" fill="#fff" stroke="#000" stroke-width="1.5"/>
<rect x="462.90" y="485.50" width="11.50" height="48.80" fill="#fff" stroke="#000" stroke-width="1.5"/>
<rect x="481.60" y="398.20" width="12.40" height="136.10" fill="#fff" stroke="#000" stroke-width="1.5"/>
<rect x="495.20" y="490.40" width="12.70" height="43.90" fill="#fff" stroke="#000" stroke-width="1.5"/>
<rect x="515.30" y="405.60" width="11.20" height="128.70" fill="#fff" stroke="#000" stroke-width="1.5"/>
<rect x="527.70" y="484.20" width="12.50" height="50.10" fill="#fff" stroke="#000" stroke-width="1.5"/>
<rect x="547.30" y="403.00" width="12.50" height="131.30" fill="#03A9F0" stroke="#000" stroke-width="1.5"/>
<rect x="561.00" y="492.40" width="11.50" height="41.90" fill="#03A9F0" stroke="#000" stroke-width="1.5"/>
<rect x="580.00" y="401.00" width="12.00" height="133.30" fill="#fff" stroke="#000" stroke-width="1.5"/>
<rect x="593.20" y="483.00" width="12.70" height="51.30" fill="#fff" stroke="#000" stroke-width="1.5"/>
<rect x="612.90" y="418.00" width="11.10" height="116.30" fill="#fff" stroke="#000" stroke-width="1.5"/>
<rect x="625.20" y="485.50" width="12.50" height="48.80" fill="#fff" stroke="#000" stroke-width="1.5"/>
<rect x="646.00" y="412.10" width="12.00" height="122.20" fill="#fff" stroke="#000" stroke-width="1.5"/>
<rect x="659.20" y="473.10" width="12.40" height="61.20" fill="#fff" stroke="#000" stroke-width="1.5"/>
<line x1="423.00" y1="399.90" x2="423.00" y2="409.40" stroke="#000" stroke-width="1.6"/>
<line x1="419.80" y1="399.90" x2="426.20" y2="399.90" stroke="#000" stroke-width="1.6"/>
<line x1="455.60" y1="315.90" x2="455.60" y2="383.50" stroke="#000" stroke-width="1.6"/>
<line x1="452.40" y1="315.90" x2="458.80" y2="315.90" stroke="#000" stroke-width="1.6"/>
<line x1="521.00" y1="386.70" x2="521.00" y2="405.60" stroke="#000" stroke-width="1.6"/>
<line x1="517.80" y1="386.70" x2="524.20" y2="386.70" stroke="#000" stroke-width="1.6"/>
<line x1="553.60" y1="398.80" x2="553.60" y2="403.00" stroke="#000" stroke-width="1.6"/>
<line x1="550.40" y1="398.80" x2="556.80" y2="398.80" stroke="#000" stroke-width="1.6"/>
<line x1="586.20" y1="363.70" x2="586.20" y2="401.00" stroke="#000" stroke-width="1.6"/>
<line x1="583.00" y1="363.70" x2="589.40" y2="363.70" stroke="#000" stroke-width="1.6"/>
<line x1="618.30" y1="405.60" x2="618.30" y2="418.00" stroke="#000" stroke-width="1.6"/>
<line x1="615.10" y1="405.60" x2="621.50" y2="405.60" stroke="#000" stroke-width="1.6"/>
<line x1="651.50" y1="406.40" x2="651.50" y2="412.10" stroke="#000" stroke-width="1.6"/>
<line x1="648.30" y1="406.40" x2="654.70" y2="406.40" stroke="#000" stroke-width="1.6"/>
<line x1="436.00" y1="480.50" x2="436.00" y2="483.50" stroke="#000" stroke-width="1.6"/>
<line x1="432.80" y1="480.50" x2="439.20" y2="480.50" stroke="#000" stroke-width="1.6"/>
<line x1="468.90" y1="480.00" x2="468.90" y2="485.50" stroke="#000" stroke-width="1.6"/>
<line x1="465.70" y1="480.00" x2="472.10" y2="480.00" stroke="#000" stroke-width="1.6"/>
<line x1="533.50" y1="478.00" x2="533.50" y2="484.20" stroke="#000" stroke-width="1.6"/>
<line x1="530.30" y1="478.00" x2="536.70" y2="478.00" stroke="#000" stroke-width="1.6"/>
<line x1="566.00" y1="442.90" x2="566.00" y2="492.40" stroke="#000" stroke-width="1.6"/>
<line x1="562.80" y1="442.90" x2="569.20" y2="442.90" stroke="#000" stroke-width="1.6"/>
<line x1="599.50" y1="473.60" x2="599.50" y2="483.00" stroke="#000" stroke-width="1.6"/>
<line x1="596.30" y1="473.60" x2="602.70" y2="473.60" stroke="#000" stroke-width="1.6"/>
<line x1="665.60" y1="467.40" x2="665.60" y2="473.10" stroke="#000" stroke-width="1.6"/>
<line x1="662.40" y1="467.40" x2="668.80" y2="467.40" stroke="#000" stroke-width="1.6"/>
<circle cx="423.00" cy="408.00" r="2.5" fill="none" stroke="#000" stroke-width="1.3"/>
<circle cx="423.40" cy="408.90" r="2.5" fill="none" stroke="#000" stroke-width="1.3"/>
<circle cx="422.60" cy="409.40" r="2.5" fill="none" stroke="#000" stroke-width="1.3"/>
<circle cx="423.00" cy="411.30" r="2.5" fill="none" stroke="#000" stroke-width="1.3"/>
<circle cx="455.60" cy="374.40" r="2.5" fill="none" stroke="#000" stroke-width="1.3"/>
<circle cx="455.60" cy="395.00" r="2.5" fill="none" stroke="#000" stroke-width="1.3"/>
<circle cx="487.90" cy="398.40" r="2.5" fill="none" stroke="#000" stroke-width="1.3"/>
<circle cx="521.00" cy="397.70" r="2.5" fill="none" stroke="#000" stroke-width="1.3"/>
<circle cx="521.00" cy="402.60" r="2.5" fill="none" stroke="#000" stroke-width="1.3"/>
<circle cx="521.00" cy="416.80" r="2.5" fill="none" stroke="#000" stroke-width="1.3"/>
<circle cx="553.80" cy="401.50" r="2.5" fill="none" stroke="#000" stroke-width="1.3"/>
<circle cx="586.00" cy="396.00" r="2.5" fill="none" stroke="#000" stroke-width="1.3"/>
<circle cx="586.00" cy="406.90" r="2.5" fill="none" stroke="#000" stroke-width="1.3"/>
<circle cx="618.20" cy="415.80" r="2.5" fill="none" stroke="#000" stroke-width="1.3"/>
<circle cx="618.20" cy="420.80" r="2.5" fill="none" stroke="#000" stroke-width="1.3"/>
<circle cx="651.50" cy="408.30" r="2.5" fill="none" stroke="#000" stroke-width="1.3"/>
<circle cx="651.50" cy="411.50" r="2.5" fill="none" stroke="#000" stroke-width="1.3"/>
<circle cx="651.50" cy="415.30" r="2.5" fill="none" stroke="#000" stroke-width="1.3"/>
<circle cx="436.00" cy="482.50" r="2.5" fill="none" stroke="#000" stroke-width="1.3"/>
<circle cx="436.00" cy="483.50" r="2.5" fill="none" stroke="#000" stroke-width="1.3"/>
<circle cx="468.90" cy="485.50" r="2.5" fill="none" stroke="#000" stroke-width="1.3"/>
<circle cx="468.90" cy="483.50" r="2.5" fill="none" stroke="#000" stroke-width="1.3"/>
<circle cx="501.10" cy="490.40" r="2.5" fill="none" stroke="#000" stroke-width="1.3"/>
<circle cx="533.50" cy="481.80" r="2.5" fill="none" stroke="#000" stroke-width="1.3"/>
<circle cx="533.50" cy="488.00" r="2.5" fill="none" stroke="#000" stroke-width="1.3"/>
<circle cx="566.00" cy="485.50" r="2.5" fill="none" stroke="#000" stroke-width="1.3"/>
<circle cx="566.00" cy="500.30" r="2.5" fill="none" stroke="#000" stroke-width="1.3"/>
<circle cx="599.50" cy="481.80" r="2.5" fill="none" stroke="#000" stroke-width="1.3"/>
<circle cx="599.50" cy="485.00" r="2.5" fill="none" stroke="#000" stroke-width="1.3"/>
<circle cx="631.70" cy="485.50" r="2.5" fill="none" stroke="#000" stroke-width="1.3"/>
<circle cx="665.60" cy="469.90" r="2.5" fill="none" stroke="#000" stroke-width="1.3"/>
<circle cx="665.60" cy="475.60" r="2.5" fill="none" stroke="#000" stroke-width="1.3"/>
<line x1="410.00" y1="302.00" x2="410.00" y2="535.20" stroke="#000" stroke-width="1.9"/>
<line x1="406.30" y1="534.30" x2="410.00" y2="534.30" stroke="#000" stroke-width="1.8"/>
<line x1="406.30" y1="487.98" x2="410.00" y2="487.98" stroke="#000" stroke-width="1.8"/>
<line x1="406.30" y1="441.66" x2="410.00" y2="441.66" stroke="#000" stroke-width="1.8"/>
<line x1="406.30" y1="395.34" x2="410.00" y2="395.34" stroke="#000" stroke-width="1.8"/>
<line x1="406.30" y1="349.02" x2="410.00" y2="349.02" stroke="#000" stroke-width="1.8"/>
<line x1="406.30" y1="302.70" x2="410.00" y2="302.70" stroke="#000" stroke-width="1.8"/>
<line x1="406.30" y1="534.30" x2="681.80" y2="534.30" stroke="#000" stroke-width="1.9"/>
<line x1="429.00" y1="534.30" x2="429.00" y2="538.70" stroke="#000" stroke-width="1.8"/>
<line x1="462.00" y1="534.30" x2="462.00" y2="538.70" stroke="#000" stroke-width="1.8"/>
<line x1="494.20" y1="534.30" x2="494.20" y2="538.70" stroke="#000" stroke-width="1.8"/>
<line x1="526.40" y1="534.30" x2="526.40" y2="538.70" stroke="#000" stroke-width="1.8"/>
<line x1="559.80" y1="534.30" x2="559.80" y2="538.70" stroke="#000" stroke-width="1.8"/>
<line x1="592.00" y1="534.30" x2="592.00" y2="538.70" stroke="#000" stroke-width="1.8"/>
<line x1="624.20" y1="534.30" x2="624.20" y2="538.70" stroke="#000" stroke-width="1.8"/>
<line x1="657.50" y1="534.30" x2="657.50" y2="538.70" stroke="#000" stroke-width="1.8"/>
<text x="403.60" y="541.70" font-size="17.8" text-anchor="end" font-weight="normal" font-style="normal" >0</text>
<text x="378.86" y="495.38" font-size="17.8" text-anchor="start" font-weight="normal" font-style="normal" >0</text>
<text x="388.76" y="495.38" font-size="17.8" text-anchor="start" font-weight="normal" font-style="normal" >.</text>
<path d="M583 0V1147L223 930V1104Q374 1175 487 1276T647 1472H763V0Z" transform="translate(393.70 495.38) scale(0.00869 -0.00869)" fill="#000"/>
<text x="403.60" y="449.06" font-size="17.8" text-anchor="end" font-weight="normal" font-style="normal" >0.2</text>
<text x="403.60" y="402.74" font-size="17.8" text-anchor="end" font-weight="normal" font-style="normal" >0.3</text>
<text x="403.60" y="356.42" font-size="17.8" text-anchor="end" font-weight="normal" font-style="normal" >0.4</text>
<text x="403.60" y="310.10" font-size="17.8" text-anchor="end" font-weight="normal" font-style="normal" >0.5</text>
<text x="428.00" y="557.70" font-size="16.5" text-anchor="middle" font-weight="bold" font-style="italic" >Tm</text>
<text x="459.20" y="557.70" font-size="16.5" text-anchor="middle" font-weight="bold" font-style="italic" >Cu</text>
<text x="490.00" y="557.70" font-size="16.5" text-anchor="middle" font-weight="bold" font-style="italic" >Ct</text>
<text x="523.90" y="557.70" font-size="16.5" text-anchor="middle" font-weight="bold" font-style="italic" >Rr</text>
<text x="558.80" y="557.70" font-size="16.5" text-anchor="middle" font-weight="bold" font-style="italic" >No</text>
<text x="591.00" y="557.70" font-size="16.5" text-anchor="middle" font-weight="bold" font-style="italic" >Npt</text>
<text x="625.00" y="557.70" font-size="16.5" text-anchor="middle" font-weight="bold" font-style="italic" >Nb</text>
<text x="658.30" y="557.70" font-size="16.5" text-anchor="middle" font-weight="bold" font-style="italic" >Nd</text>
<text x="368.6" y="401.5" font-size="18.6" text-anchor="middle" transform="rotate(-90 368.6 401.5)">WT:Ø<tspan font-size="12" dy="3.5">h</tspan></text>
<circle cx="638.4" cy="321.9" r="18.6" fill="none" stroke="#000" stroke-width="1.6"/>
<text x="0" y="0" font-size="30" text-anchor="middle" stroke="#000" stroke-width="0.35" transform="translate(638.4 332.5) scale(0.95 1.0)">d</text>
</svg>
</body></html>
